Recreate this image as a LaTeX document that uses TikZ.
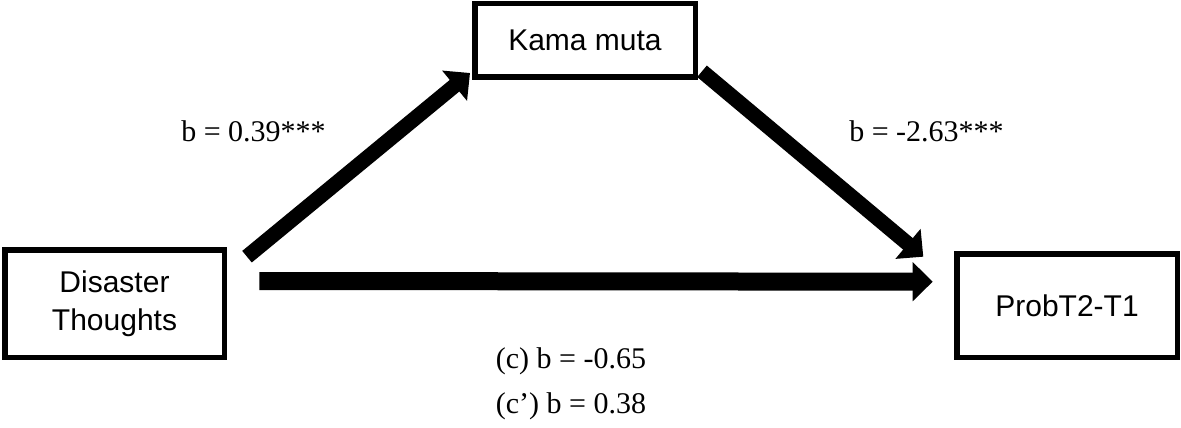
\documentclass[tikz,border=0pt]{standalone}
\usepackage{fontspec}
\setmainfont{Liberation Serif}
\newfontfamily\boxfont{Liberation Sans}
\usetikzlibrary{arrows.meta,calc}
\begin{document}
\begin{tikzpicture}[x=1pt,y=-1pt,
  varbox/.style={draw, line width=5.5pt, rectangle, align=center, inner sep=0pt,
    font=\boxfont\fontsize{30}{38}\selectfont},
  bigarrow/.style={line width=#1, -{Triangle[width=38pt,length=20pt]}, line cap=butt},
  coef/.style={anchor=base, inner sep=0pt, font=\fontsize{30}{36}\selectfont}]
\useasboundingbox (0,0) rectangle (1181,428);
\node[varbox, minimum width=219.5pt, minimum height=107.5pt] (dis) at (114.5,303.5) {Disaster\\Thoughts};
\node[varbox, minimum width=220.5pt, minimum height=73.5pt] (kama) at (585,40.5) {Kama muta};
\node[varbox, minimum width=220.5pt, minimum height=103.5pt] (prob) at (1067,305.5) {ProbT2-T1};
\coordinate (a1s) at ($(dis.north east)+(20,9.7)$);
\coordinate (a1e) at ($(kama.south west)+(-2,-7)$);
\coordinate (a2s) at ($(kama.south east)+(4,-8.7)$);
\coordinate (a2e) at ($(prob.north west)+(-30.7,5.7)$);
\coordinate (a3s) at ($(dis.east)+(32.3,-22.5)$);
\coordinate (a3e) at ($(prob.west)+(-21.3,-23.8)$);
\draw[bigarrow=15pt] (a1s) -- (a1e);
\draw[bigarrow=15pt] (a2s) -- (a2e);
\draw[bigarrow=18pt] (a3s) -- (a3e);
\node[coef] (l1) at (253.5,141) {b = 0.39***};
\node[coef] (l2) at (926.5,141) {b = -2.63***};
\node[coef] (l3) at (571,368) {(c) b = -0.65};
\node[coef] (l4) at (571,413) {(c’) b = 0.38};
\end{tikzpicture}
\end{document}
